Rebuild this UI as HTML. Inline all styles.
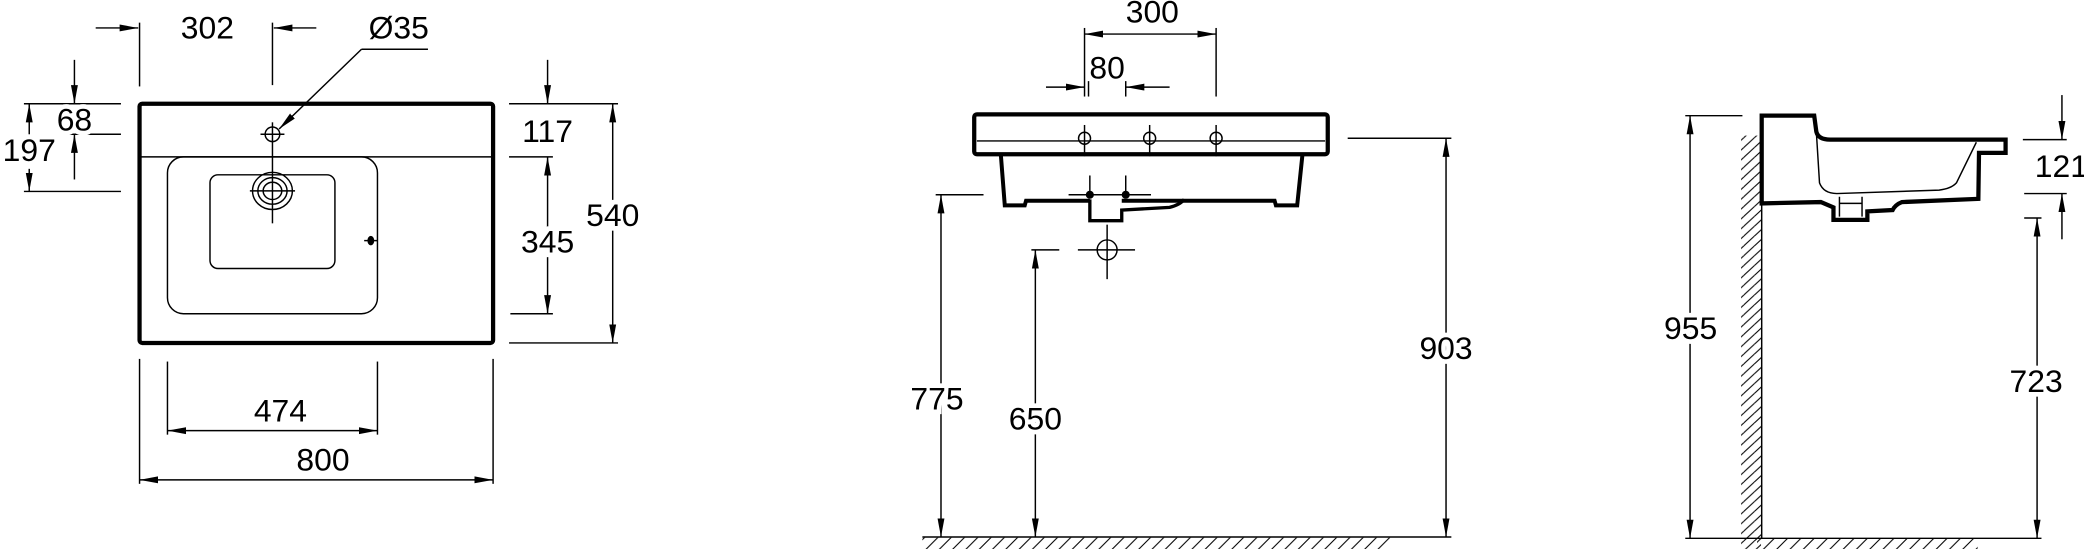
<!DOCTYPE html>
<html><head><meta charset="utf-8"><style>html,body{margin:0;padding:0;background:#fff}svg{display:block}</style></head>
<body>
<svg width="2084" height="549" viewBox="0 0 1568 413" xmlns="http://www.w3.org/2000/svg" font-family="Liberation Sans, sans-serif" font-size="24" text-anchor="middle" fill="none" stroke="#000">
<defs>
<marker id="a" markerUnits="userSpaceOnUse" markerWidth="15" markerHeight="8" viewBox="0 -4 15 8" refX="14" refY="0" orient="auto-start-reverse"><path d="M0,-2.6 L14,0 L0,2.6 z" fill="#000" stroke="none"/></marker>
<pattern id="h1" patternUnits="userSpaceOnUse" width="10" height="10"><path d="M-1,11 L11,-1 M-6,6 L6,-6 M4,16 L16,4" stroke="#000" stroke-width="0.8"/></pattern>
<pattern id="h2" patternUnits="userSpaceOnUse" width="16" height="7.4"><path d="M0,14.8 L16,0 M0,7.4 L8,0 M8,14.8 L16,7.4 M-8,7.4 L8,-7.4" stroke="#000" stroke-width="0.8"/></pattern>
</defs>
<g stroke-width="1.1">
<!-- VIEW 1 -->
<rect x="105" y="78" width="266" height="180" rx="2" stroke-width="3.2"/>
<line x1="105" y1="118" x2="371" y2="118"/>
<rect x="126" y="118" width="158" height="118" rx="12"/>
<rect x="158" y="131.5" width="94" height="70.5" rx="6"/>
<ellipse cx="205" cy="143.6" rx="15" ry="14"/>
<ellipse cx="205" cy="143.6" rx="11" ry="10"/>
<ellipse cx="205" cy="143.6" rx="7" ry="6.5"/>
<line x1="188" y1="143.6" x2="222" y2="143.6"/>
<line x1="205" y1="92" x2="205" y2="168"/>
<circle cx="205" cy="101" r="5.5"/>
<line x1="196" y1="101" x2="214" y2="101"/>
<line x1="274" y1="181" x2="284" y2="181"/><ellipse cx="279" cy="181" rx="2" ry="3" fill="#000"/>
<line x1="272" y1="37" x2="322" y2="37"/>
<line x1="272" y1="37" x2="210" y2="97" marker-end="url(#a)"/>
<line x1="105" y1="17" x2="105" y2="65"/><line x1="205" y1="17" x2="205" y2="64"/>
<line x1="72" y1="21" x2="104" y2="21" marker-end="url(#a)"/>
<line x1="238" y1="21" x2="206" y2="21" marker-end="url(#a)"/>
<line x1="18" y1="78" x2="91" y2="78"/><line x1="52" y1="101" x2="91" y2="101"/><line x1="18" y1="144" x2="91" y2="144"/>
<line x1="56" y1="45" x2="56" y2="78" marker-end="url(#a)"/>
<line x1="56" y1="135" x2="56" y2="101" marker-end="url(#a)"/>
<line x1="22" y1="101" x2="22" y2="78" marker-end="url(#a)"/>
<line x1="22" y1="127" x2="22" y2="144" marker-end="url(#a)"/>
<line x1="383" y1="78" x2="465" y2="78"/><line x1="383" y1="118" x2="416" y2="118"/><line x1="384" y1="236" x2="416" y2="236"/><line x1="383" y1="258" x2="465" y2="258"/>
<line x1="412" y1="45" x2="412" y2="78" marker-end="url(#a)"/>
<line x1="412" y1="236" x2="412" y2="118" marker-start="url(#a)" marker-end="url(#a)"/>
<line x1="461" y1="258" x2="461" y2="78" marker-start="url(#a)" marker-end="url(#a)"/>
<line x1="105" y1="270" x2="105" y2="364"/><line x1="371" y1="270" x2="371" y2="364"/>
<line x1="126" y1="272" x2="126" y2="327"/><line x1="284" y1="272" x2="284" y2="327"/>
<line x1="126" y1="324" x2="284" y2="324" marker-start="url(#a)" marker-end="url(#a)"/>
<line x1="105" y1="361" x2="371" y2="361" marker-start="url(#a)" marker-end="url(#a)"/>
<!-- VIEW 2 -->
<rect x="733" y="86" width="266" height="30" rx="2" stroke-width="3.2"/>
<line x1="735" y1="106" x2="997" y2="106"/>
<path d="M753,116 L756,154.5 L771,154.5 L772,151 L820,151 M844,151 L959,151 L960,154.5 L976,154.5 L980,116" stroke-width="3"/>
<path d="M820,150 L820,166 L844,166 L844,158 L880,156 Q888,154 891,150" stroke-width="2.5"/>
<circle cx="816" cy="104" r="4.5"/><circle cx="865" cy="104" r="4.5"/><circle cx="915" cy="104" r="4.5"/>
<line x1="816" y1="94" x2="816" y2="117.5"/><line x1="865" y1="94" x2="865" y2="117.5"/><line x1="915" y1="94" x2="915" y2="117.5"/>
<line x1="804" y1="146.5" x2="866" y2="146.5"/>
<circle cx="820" cy="146.5" r="2.5" fill="#000"/><circle cx="847" cy="146.5" r="2.5" fill="#000"/>
<line x1="820" y1="132" x2="820" y2="149"/><line x1="847" y1="132" x2="847" y2="149"/>
<circle cx="833" cy="188" r="7.5"/>
<line x1="811" y1="188" x2="854" y2="188"/><line x1="833" y1="169" x2="833" y2="210"/>
<line x1="816" y1="21" x2="816" y2="72.6"/><line x1="915" y1="21" x2="915" y2="72.6"/>
<line x1="816" y1="25.6" x2="915" y2="25.6" marker-start="url(#a)" marker-end="url(#a)"/>
<line x1="847" y1="61" x2="847" y2="72.6"/><line x1="819" y1="61" x2="819" y2="72.6"/>
<line x1="787" y1="65.5" x2="816" y2="65.5" marker-end="url(#a)"/>
<line x1="880" y1="65.5" x2="847" y2="65.5" marker-end="url(#a)"/>
<line x1="1014" y1="104" x2="1092" y2="104"/>
<line x1="1088" y1="104" x2="1088" y2="404" marker-start="url(#a)" marker-end="url(#a)"/>
<line x1="704" y1="146.5" x2="740" y2="146.5"/>
<line x1="708" y1="146.5" x2="708" y2="404" marker-start="url(#a)" marker-end="url(#a)"/>
<line x1="776" y1="188" x2="797" y2="188"/>
<line x1="779" y1="188" x2="779" y2="404" marker-start="url(#a)" marker-end="url(#a)"/>
<line x1="694" y1="404" x2="1092" y2="404"/>
<rect x="694" y="404.5" width="352" height="9" fill="url(#h1)" stroke="none"/>
<!-- VIEW 3 -->
<line x1="1325.5" y1="153" x2="1325.5" y2="405"/>
<rect x="1310" y="102" width="15" height="311" fill="url(#h2)" stroke="none"/>
<path d="M1325.5,87 L1365,87 L1366.6,99 Q1368,105 1377,105 L1509,105 L1509,115 L1489,115 L1488.5,149.6 L1431,152 Q1426,154 1424,158 L1405,159 L1405,165.4 L1379.5,165.4 L1379.5,156 L1370,152 L1325.5,153 Z" stroke-width="3.2"/>
<path d="M1366.6,99 L1369,137.6 Q1372,145.6 1382,145.6 L1459,143 Q1468,142 1472,137.6 L1487,107"/>
<path d="M1384,148 L1384,163 M1401,148 L1401,163 M1384,153 L1401,153"/>
<line x1="1522" y1="105" x2="1555" y2="105"/><line x1="1523" y1="145.6" x2="1555" y2="145.6"/>
<line x1="1551.4" y1="71.5" x2="1551.4" y2="105" marker-end="url(#a)"/>
<line x1="1551.4" y1="180" x2="1551.4" y2="145.6" marker-end="url(#a)"/>
<line x1="1523" y1="164" x2="1536" y2="164"/>
<line x1="1532.7" y1="164" x2="1532.7" y2="405" marker-start="url(#a)" marker-end="url(#a)"/>
<line x1="1268" y1="87" x2="1311" y2="87"/>
<line x1="1268" y1="405" x2="1536" y2="405"/>
<line x1="1271.6" y1="87" x2="1271.6" y2="405" marker-start="url(#a)" marker-end="url(#a)"/>
<rect x="1322" y="405.5" width="166" height="8" fill="url(#h1)" stroke="none"/>
</g>
<g fill="#000" stroke="#fff" stroke-width="7" paint-order="stroke">
<text x="156" y="29">302</text>
<text x="300" y="29">Ø35</text>
<text x="56" y="98">68</text>
<text x="22" y="121">197</text>
<text x="412" y="107">117</text>
<text x="412" y="190">345</text>
<text x="461" y="170">540</text>
<text x="211" y="317">474</text>
<text x="243" y="354">800</text>
<text x="867" y="17">300</text>
<text x="833" y="59">80</text>
<text x="1088" y="270">903</text>
<text x="705" y="308">775</text>
<text x="779" y="323">650</text>
<text x="1551" y="133">121</text>
<text x="1532" y="295">723</text>
<text x="1272" y="255">955</text>
</g>
</svg>
</body></html>
